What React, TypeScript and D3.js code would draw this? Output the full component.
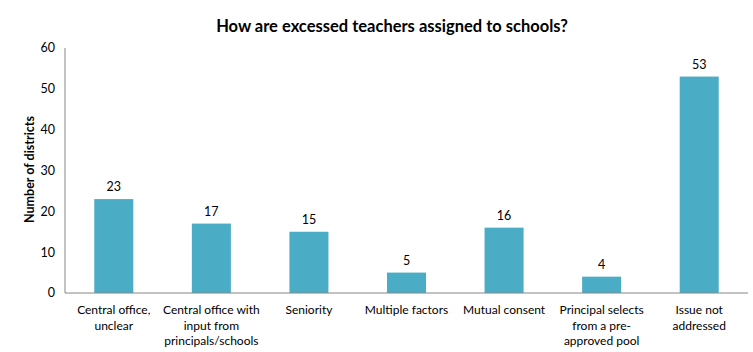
import React from "react";
import * as d3 from "d3";

const categories = [
  ["Central office,", "unclear"],
  ["Central office with", "input from", "principals/schools"],
  ["Seniority"],
  ["Multiple factors"],
  ["Mutual consent"],
  ["Principal selects", "from a pre-", "approved pool"],
  ["Issue not", "addressed"],
];
const values = [23, 17, 15, 5, 16, 4, 53];
const yTicks = [0, 10, 20, 30, 40, 50, 60];

const W = 753;
const H = 352;
const margin = { top: 48, right: 5, bottom: 59, left: 65 };
const font = "Lato, 'Open Sans', sans-serif";

export default function App() {
  const x = d3
    .scaleBand<number>()
    .domain(d3.range(values.length))
    .range([margin.left, W - margin.right])
    .paddingInner(0.6)
    .paddingOuter(0.3);
  const y = d3.scaleLinear().domain([0, 60]).range([H - margin.bottom, margin.top]);

  return (
    <svg width={W} height={H} style={{ position: "absolute", left: 0, top: 0 }} fontFamily={font}>
      <text x={392} y={32} textAnchor="middle" fontSize={16.5} fontWeight="bold" fill="#000">
        How are excessed teachers assigned to schools?
      </text>
      <text
        transform={`translate(34,${(margin.top + H - margin.bottom) / 2 - 1}) rotate(-90)`}
        textAnchor="middle"
        fontSize={12.5}
        fontWeight="bold"
        fill="#000"
      >
        Number of districts
      </text>
      {yTicks.map((t) => (
        <text key={t} x={55} y={y(t)} dy="0.35em" textAnchor="end" fontSize={12.5} fill="#000">
          {t}
        </text>
      ))}
      {values.map((v, i) => (
        <g key={i}>
          <rect x={x(i)} y={y(v)} width={x.bandwidth()} height={y(0) - y(v)} fill="#4BACC6" />
          <text
            x={x(i)! + x.bandwidth() / 2}
            y={y(v) - 8}
            textAnchor="middle"
            fontSize={12.5}
            fill="#000"
          >
            {v}
          </text>
        </g>
      ))}
      <line x1={margin.left} x2={margin.left} y1={margin.top} y2={y(0)} stroke="#868686" />
      <line x1={margin.left} x2={W - margin.right} y1={y(0)} y2={y(0)} stroke="#868686" />
      {categories.map((lines, i) => (
        <text
          key={i}
          x={x(i)! + x.bandwidth() / 2}
          y={314}
          textAnchor="middle"
          fontSize={12}
          fill="#000"
        >
          {lines.map((l, j) => (
            <tspan key={j} x={x(i)! + x.bandwidth() / 2} dy={j === 0 ? 0 : 15.5}>
              {l}
            </tspan>
          ))}
        </text>
      ))}
    </svg>
  );
}
